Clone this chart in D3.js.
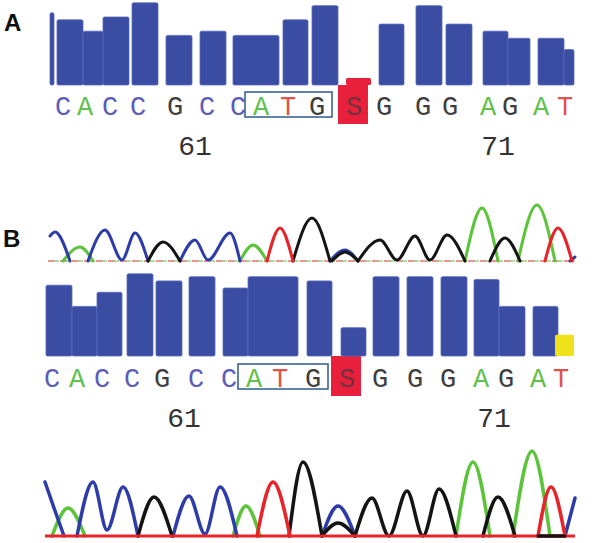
<!DOCTYPE html>
<html>
<head>
<meta charset="utf-8">
<script src="https://cdn.jsdelivr.net/npm/d3@7"></script>
<style>
  body { margin: 0; background: #fff; }
</style>
</head>
<body>
<svg id="chart" width="600" height="543"></svg>
<script>
// base calls (same read in both panels), positions in scan units
const bases = ['C','A','C','C','G','C','C','A','T','G','S','G','G','G','A','G','A','T'];
const callsA = [23, 45, 70, 98, 135, 167, 198, 221, 248, 277, 314, 344, 383, 410, 448, 470, 501, 525];
const callsB = [12, 37, 62, 92, 122, 156, 189, 214, 240, 273, 307, 340, 375, 408, 441, 466, 498, 521];
const tickIdx = [5, 15];
const tickLabels = ['61', '71'];
const codonIdx = [7, 9];   // ATG
const mixedIdx = 10;       // S

// quality bars: [scanStart, scanEnd, quality, flag]
const qualA = [
  [10, 14, 51], [17, 43, 46], [43, 63, 38], [63, 89, 48], [92, 118, 58],
  [126, 152, 35], [160, 186, 38], [193, 239, 35], [243, 268, 46], [272, 298, 56],
  [306, 331, 5, 'x'], [339, 364, 43], [376, 402, 56], [406, 432, 43], [443, 468, 38],
  [468, 490, 33], [498, 524, 33], [524, 534, 25]
];
const qualB = [
  [6, 32, 50], [32, 57, 35], [57, 82, 45], [87, 113, 58], [116, 142, 53],
  [149, 175, 56], [183, 208, 48], [208, 258, 56], [267, 292, 53], [301, 326, 20],
  [333, 359, 56], [367, 393, 56], [401, 427, 56], [434, 459, 54], [459, 485, 35],
  [493, 518, 35], [515, 534, 15, 'w']
];

// chromatogram humps per channel: list of [scan, signal] points
const topC = [
  [[10, 25], [15, 29], [30, 0]],
  [[48, 0], [65, 31], [82, 1], [95, 28], [108, 0]],
  [[140, 0], [155, 21], [168, 1], [190, 28], [200, 0]],
  [[290, 0], [305, 11], [318, 0]],
  [[530, 0], [535, 4]]
];
const topA = [
  [[23, 0], [40, 14], [53, 0]],
  [[200, 0], [213, 16], [227, 0]],
  [[425, 0], [442, 53], [458, 0]],
  [[478, 0], [497, 56], [515, 0]]
];
const topG = [
  [[108, 0], [123, 19], [140, 0]],
  [[253, 0], [272, 43], [290, 0]],
  [[292, 0], [305, 9], [318, 0]],
  [[318, 0], [340, 21], [357, 1], [375, 25], [390, 1], [407, 26], [425, 0]],
  [[450, 0], [465, 23], [480, 0]]
];
const topT = [
  [[227, 0], [240, 33], [253, 0]],
  [[505, 0], [518, 33], [532, 0]]
];

const botC = [
  [[5, 54], [14, 28], [24, 0]],
  [[37, 0], [53, 54], [67, 6], [83, 49], [98, 0]],
  [[133, 0], [149, 40], [165, 2], [180, 49], [197, 0]],
  [[282, 0], [298, 30], [315, 0]],
  [[525, 0], [535, 38]]
];
const botA = [
  [[12, 0], [28, 28], [45, 0]],
  [[193, 0], [206, 30], [220, 0]],
  [[416, 0], [433, 74], [450, 0]],
  [[473, 0], [492, 85], [510, 0]]
];
const botG = [
  [[98, 0], [114, 39], [132, 0]],
  [[249, 0], [263, 74], [282, 0]],
  [[282, 0], [298, 13], [315, 0]],
  [[315, 0], [332, 38], [349, 0], [367, 45], [383, 0], [399, 47], [416, 0]],
  [[443, 0], [458, 39], [475, 0]],
  [[498, 0], [525, 0]]
];
const botT = [
  [[217, 0], [233, 54], [250, 0]],
  [[498, 0], [511, 49], [525, 0]]
];

const svg = d3.select('#chart');
const x = d3.scaleLinear().domain([0, 540]).range([40, 580]);

const qColor = { n: '#3a4da2', x: '#e8203c', w: '#f0e21a' };
const baseColor = { C: '#5c5cba', A: '#62c04c', G: '#3e3e3e', T: '#e0524c', S: '#74303c' };
const traceColor = { C: '#2d3ca8', A: '#5cc43a', G: '#141414', T: '#e8232a' };
const mono = '"Liberation Mono", "DejaVu Sans Mono", monospace';

function drawQuality(yq, data) {
  svg.append('g')
    .selectAll('rect')
    .data(data)
    .join('rect')
    .attr('x', d => x(d[0]))
    .attr('width', d => x(d[1]) - x(d[0]))
    .attr('y', d => yq(d[2]))
    .attr('height', d => yq(0) - yq(d[2]))
    .attr('rx', 1.5)
    .attr('fill', d => qColor[d[3] || 'n'])
    .attr('stroke', d => d[3] ? 'none' : '#5868c0')
    .attr('stroke-width', 0.8);
}

function drawCalls(calls, barBase, baseline, labelY) {
  const g = svg.append('g');
  // mixed base highlight
  const cx = x(calls[mixedIdx]);
  g.append('rect')
    .attr('x', cx - 16).attr('width', 30)
    .attr('y', barBase).attr('height', baseline + 9 - barBase)
    .attr('fill', qColor.x);

  // start codon box
  const x0 = x(calls[codonIdx[0]]) - 16;
  const x1 = x(calls[codonIdx[1]]) + 15;
  g.append('rect')
    .attr('x', x0).attr('width', x1 - x0)
    .attr('y', baseline - 23).attr('height', 25)
    .attr('fill', 'none')
    .attr('stroke', '#2c5a8c')
    .attr('stroke-width', 1.5);

  g.selectAll('text.base')
    .data(bases)
    .join('text')
    .attr('class', 'base')
    .attr('x', (d, i) => x(calls[i]))
    .attr('y', baseline)
    .attr('text-anchor', 'middle')
    .attr('font-family', mono)
    .attr('font-size', 27)
    .attr('fill', d => baseColor[d])
    .text(d => d);

  g.selectAll('text.pos')
    .data(tickLabels)
    .join('text')
    .attr('class', 'pos')
    .attr('x', (d, i) => x(calls[tickIdx[i]]) - 12)
    .attr('y', labelY)
    .attr('text-anchor', 'middle')
    .attr('font-family', mono)
    .attr('font-size', 28)
    .attr('fill', '#333')
    .text(d => d);
}

function drawTrace(y, channels, width) {
  const line = d3.line()
    .x(d => x(d[0]))
    .y(d => y(d[1]))
    .curve(d3.curveMonotoneX);
  const g = svg.append('g').attr('fill', 'none').attr('stroke-width', width)
    .attr('stroke-linejoin', 'round').attr('stroke-linecap', 'round');
  channels.forEach(([key, humps]) => {
    g.selectAll(null)
      .data(humps)
      .join('path')
      .attr('d', line)
      .attr('stroke', traceColor[key]);
  });
}

// panel letters
svg.append('text').attr('x', 4).attr('y', 31)
  .attr('font-family', '"Liberation Sans", Arial, sans-serif')
  .attr('font-weight', 'bold').attr('font-size', 24).attr('fill', '#111').text('A');
svg.append('text').attr('x', 3).attr('y', 247)
  .attr('font-family', '"Liberation Sans", Arial, sans-serif')
  .attr('font-weight', 'bold').attr('font-size', 24).attr('fill', '#111').text('B');

// ---- panel A ----
const yQA = d3.scaleLinear().domain([0, 60]).range([85, 0]);
drawCalls(callsA, 85, 115, 155);
drawQuality(yQA, qualA);

// ---- panel B ----
const yTop = d3.scaleLinear().domain([0, 60]).range([261, 201]);
svg.append('line')
  .attr('x1', x(8)).attr('x2', x(536)).attr('y1', yTop(0)).attr('y2', yTop(0))
  .attr('stroke', '#e87070').attr('stroke-width', 1.5).attr('stroke-dasharray', '7,5');
svg.append('line')
  .attr('x1', x(8)).attr('x2', x(536)).attr('y1', yTop(0)).attr('y2', yTop(0))
  .attr('stroke', '#9bd08a').attr('stroke-width', 1.5)
  .attr('stroke-dasharray', '5,7').attr('stroke-dashoffset', 6);
drawTrace(yTop, [['A', topA], ['C', topC], ['G', topG], ['T', topT]], 3);

const yQB = d3.scaleLinear().domain([0, 60]).range([356, 271]);
drawCalls(callsB, 356, 387, 427);
drawQuality(yQB, qualB);

const yBot = d3.scaleLinear().domain([0, 90]).range([536, 446]);
drawTrace(yBot, [['A', botA], ['C', botC], ['G', botG], ['T', botT]], 3.5);
svg.append('line')
  .attr('x1', x(5)).attr('x2', x(535)).attr('y1', yBot(0)).attr('y2', yBot(0))
  .attr('stroke', traceColor.T).attr('stroke-width', 3);
drawTrace(yBot, [['G', [botG[5]]]], 3);
</script>
</body>
</html>
